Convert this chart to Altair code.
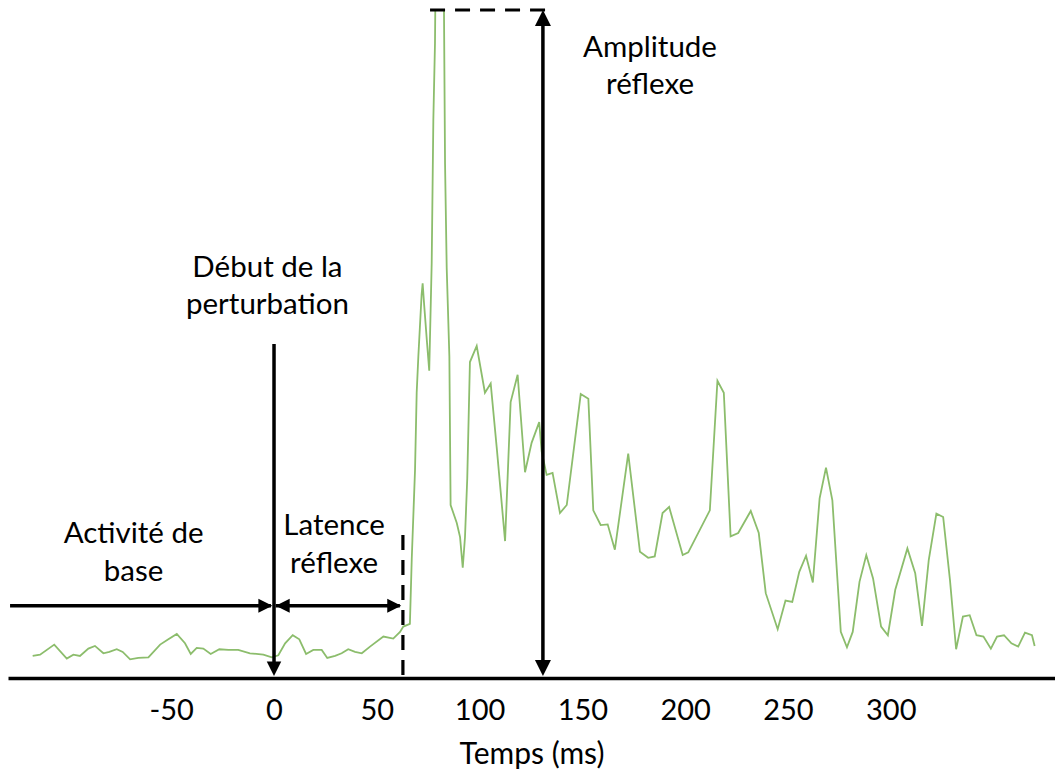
import altair as alt
import pandas as pd

# ---- EMG trace (time in ms, amplitude in arbitrary units) ----
time_ms = [-117.4, -113.8, -106.9, -100.8, -97.6, -94.4, -90.3, -87.1, -83.0, -80.1,
           -76.5, -73.6, -70.0, -66.0, -61.1, -55.4, -51.4, -47.3, -43.3, -40.5,
           -37.6, -34.4, -30.8, -26.6, -22.2, -17.4, -11.7, -5.2, -1.1, 2.1,
           5.4, 9.1, 12.3, 15.6, 19.1, 23.2, 25.9, 29.7, 32.9, 36.1,
           39.4, 42.7, 46.7, 53.2, 58.0, 61.3, 62.9, 66.1, 67.0, 68.6,
           69.4, 70.2, 71.8, 72.3, 73.0, 74.3, 75.5, 76.7, 77.5, 78.3,
           79.3, 82.0,
           83.2, 84.0, 85.3, 85.9, 88.9, 90.5, 91.8, 92.9, 94.0, 95.3,
           98.6, 102.6, 105.4, 108.3, 112.4, 115.1, 118.5, 122.1, 125.3, 129.0,
           130.2, 132.6, 135.5, 139.1, 142.4, 149.2, 152.9, 155.3, 158.9, 162.3,
           165.8, 172.3, 178.0, 182.0, 185.2, 189.0, 192.2, 198.8, 201.5, 212.0,
           215.7, 218.8, 222.1, 225.8, 231.9, 235.8, 239.2, 245.0, 248.8, 252.1,
           255.5, 258.8, 262.1, 265.4, 268.5, 271.6, 275.7, 278.7, 281.5, 284.8,
           288.1, 291.4, 295.3, 298.6, 302.2, 308.1, 311.9, 315.2, 318.5, 322.2,
           325.5, 328.8, 331.8, 335.1, 338.4, 341.7, 345.1, 348.7, 351.7, 355.1,
           358.7, 362.0, 365.3, 368.7, 370.0]

emg = [3.3, 3.5, 5.0, 2.9, 3.5, 3.3, 4.4, 4.8, 3.7, 3.9,
       4.3, 3.9, 2.8, 3.0, 3.1, 5.0, 5.8, 6.6, 5.2, 3.6,
       4.5, 4.4, 3.6, 4.3, 4.2, 4.2, 3.7, 3.5, 3.1, 3.4,
       5.2, 6.4, 5.8, 3.6, 4.2, 4.2, 3.0, 3.3, 3.7, 4.3,
       3.9, 3.7, 4.7, 6.2, 5.9, 6.9, 7.7, 8.1, 17.8, 31.2,
       42.7, 48.1, 57.4, 59.1, 56.0, 50.7, 46.0, 62.1, 83.5, 95.0,
       130.0, 130.0,
       76.9, 61.4, 48.1, 25.9, 23.2, 21.1, 16.5, 21.1, 29.9, 47.3,
       49.7, 42.7, 44.1, 34.6, 20.5, 41.3, 45.4, 30.8, 35.2, 38.3,
       33.9, 30.4, 30.7, 24.7, 25.9, 42.5, 41.8, 25.1, 22.9, 23.0,
       19.2, 33.6, 18.9, 18.0, 18.2, 24.7, 25.6, 18.4, 18.8, 25.1,
       44.5, 42.7, 21.2, 21.7, 25.0, 21.7, 12.7, 7.3, 11.6, 11.4,
       15.9, 18.3, 14.3, 26.9, 31.5, 26.6, 6.9, 4.6, 6.9, 14.4,
       18.4, 14.9, 7.7, 6.4, 13.2, 19.4, 15.7, 7.8, 17.7, 24.6,
       24.1, 14.7, 4.3, 9.2, 9.4, 6.4, 6.2, 4.4, 6.2, 6.4,
       5.2, 4.7, 6.8, 6.4, 4.8]

tick_values = [-50, 0, 50, 100, 150, 200, 250, 300]
x_title = "Temps (ms)"

# annotation texts and where they sit (data units)
ann_lines = [["Début de la", "perturbation"], ["Activité de", "base"],
             ["Latence", "réflexe"], ["Amplitude", "réflexe"]]
ann_x = [-3.2, -68.3, 29.2, 182.9]
ann_y = [60.1, 20.2, 21.4, 93.0]

# key events
onset_ms = 0.0
latency_ms = 62.7
amp_ms = 130.8
peak_level = 100.0
base_level = 10.8

FONT = "Lato"
GREEN = "#8cbd6c"

assert len(time_ms) == len(emg)
trace = pd.DataFrame({"t": time_ms, "v": emg})

x_scale = alt.Scale(domain=[-129.4, 379.9], nice=False, zero=False)
y_scale = alt.Scale(domain=[0, 100], nice=False, zero=False)

line = alt.Chart(trace).mark_line(color=GREEN, strokeWidth=1.8, clip=True).encode(
    x=alt.X("t:Q", scale=x_scale,
            axis=alt.Axis(values=tick_values, title=x_title, grid=False, ticks=False,
                          domainColor="black", domainWidth=3.5,
                          labelExpr="datum.value < 0 ? '-' + abs(datum.value) : '' + datum.value",
                          labelFont=FONT, labelFontSize=29, labelColor="black",
                          labelBaseline="alphabetic", labelPadding=41,
                          labelOverlap=False, labelFlush=False,
                          titleFont=FONT, titleFontSize=30, titleFontWeight="normal",
                          titleColor="black", titleBaseline="alphabetic", titleY=85)),
    y=alt.Y("v:Q", scale=y_scale, axis=None),
)

segs = pd.DataFrame({
    "x":  [onset_ms, -128.4, onset_ms + 0.8, amp_ms],
    "x2": [onset_ms, onset_ms - 1.5, latency_ms - 1.5, amp_ms],
    "y":  [50.0, base_level, base_level, 1.0],
    "y2": [1.0, base_level, base_level, peak_level - 1.0],
})
rules = alt.Chart(segs).mark_rule(color="black", strokeWidth=3.5).encode(
    x=alt.X("x:Q", scale=x_scale), x2="x2:Q",
    y=alt.Y("y:Q", scale=y_scale), y2="y2:Q",
)

dsegs = pd.DataFrame({
    "x":  [latency_ms, 75.9],
    "x2": [latency_ms, 136.7],
    "y":  [21.4, peak_level],
    "y2": [0.0, peak_level],
})
dashed = alt.Chart(dsegs).mark_rule(color="black", strokeWidth=3.2, strokeDash=[15, 10]).encode(
    x=alt.X("x:Q", scale=x_scale), x2="x2:Q",
    y=alt.Y("y:Q", scale=y_scale), y2="y2:Q",
)

RIGHT = "M0,0L-2,-1L-2,1Z"
LEFT = "M0,0L2,-1L2,1Z"
DOWN = "M0,0L-1,-2L1,-2Z"
UP = "M0,0L-1,2L1,2Z"
heads = pd.DataFrame({
    "x": [onset_ms, onset_ms - 0.8, onset_ms + 0.8, latency_ms - 0.8, amp_ms, amp_ms],
    "y": [0.3, base_level, base_level, base_level, peak_level, 0.3],
    "shape": [DOWN, RIGHT, LEFT, RIGHT, UP, DOWN],
    "size": [210, 196, 196, 196, 256, 256],
})
arrowheads = alt.Chart(heads).mark_point(filled=True, color="black", opacity=1, strokeWidth=0).encode(
    x=alt.X("x:Q", scale=x_scale), y=alt.Y("y:Q", scale=y_scale),
    shape=alt.Shape("shape:N", scale=None),
    size=alt.Size("size:Q", scale=None),
)

ann = pd.DataFrame({"x": ann_x, "y": ann_y, "lines": ann_lines})
texts = alt.Chart(ann).mark_text(font=FONT, fontSize=29.5, color="black", align="center",
                                 baseline="alphabetic", lineHeight=37.5).encode(
    x=alt.X("x:Q", scale=x_scale), y=alt.Y("y:Q", scale=y_scale), text="lines",
)

chart = alt.layer(line, dashed, rules, arrowheads, texts).properties(
    width=1047, height=668,
    autosize=alt.AutoSizeParams(type="none"),
    padding={"left": 8, "top": 10, "right": 0, "bottom": 95},
    background="white",
).configure_view(stroke=None)

chart.save("out.html", embed_options={"renderer": "svg", "actions": False})
